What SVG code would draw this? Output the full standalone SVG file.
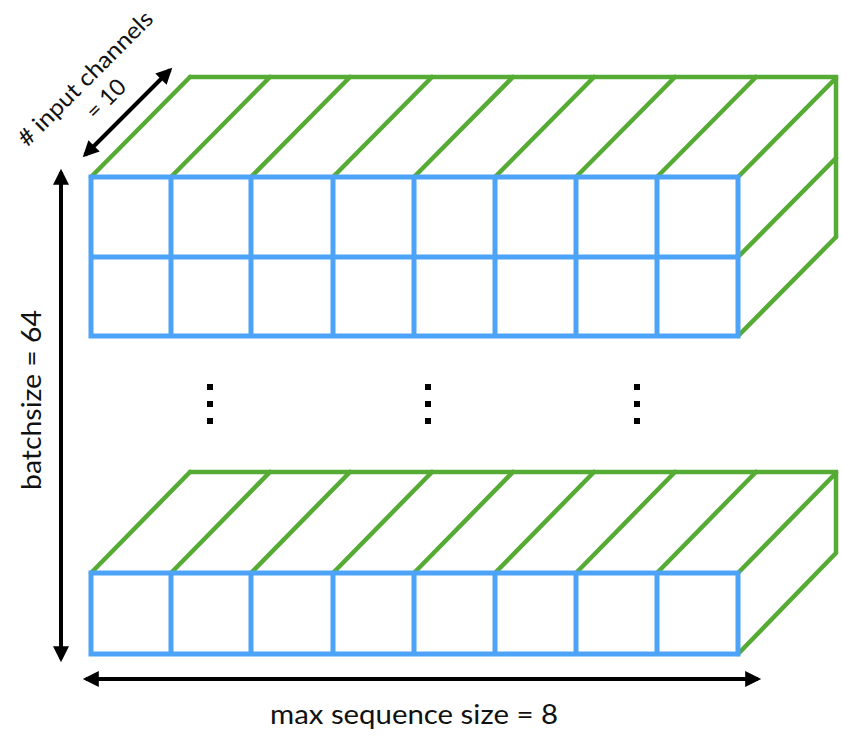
<svg xmlns="http://www.w3.org/2000/svg" width="842" height="737" viewBox="0 0 842 737">
<style>
.g{stroke:#56AB35;stroke-width:4.5;fill:none;stroke-linecap:round}
.b{stroke:#4DA3F7;stroke-width:5;fill:none}
.a{stroke:#000;stroke-width:4;fill:none}
.t{font-family:Lato,"Noto Sans",sans-serif;font-size:27px;fill:#111}
.d{fill:#000}
</style>
<defs>
<marker id="ah" viewBox="0 0 10 10" refX="8" refY="5" markerUnits="userSpaceOnUse" markerWidth="18" markerHeight="16" orient="auto-start-reverse">
<path d="M0,0 L10,5 L0,10 Z" fill="#000"/>
</marker>
</defs>
<g id="block-top">
<g class="g">
<path d="M190,77 H836 V237"/>
<path d="M91,177 L190,77 M171,177 L270,77 M251,177 L350,77 M333,177 L432,77 M414,177 L513,77 M495,177 L594,77 M576,177 L675,77 M657,177 L756,77 M738,177 L836,78"/>
<path d="M738,257 L836,158 M738,336 L836,237"/>
</g>
<g class="b">
<rect x="91" y="177" width="647" height="159"/>
<path d="M91,257 H738"/>
<path d="M171,177 V336 M251,177 V336 M333,177 V336 M414,177 V336 M495,177 V336 M576,177 V336 M657,177 V336"/>
</g>
</g>
<g id="block-bottom">
<g class="g">
<path d="M190,472 H836 V552"/>
<path d="M91,573 L190,472 M171,573 L270,472 M251,573 L350,472 M333,573 L432,472 M414,573 L513,472 M495,573 L594,472 M576,573 L675,472 M657,573 L756,472 M738,573 L836,473"/>
<path d="M738,654 L836,553"/>
</g>
<g class="b">
<rect x="91" y="573" width="647" height="81"/>
<path d="M171,573 V654 M251,573 V654 M333,573 V654 M414,573 V654 M495,573 V654 M576,573 V654 M657,573 V654"/>
</g>
</g>
<g id="ellipsis">
<rect class="d" x="207" y="384" width="6" height="6"/><rect class="d" x="207" y="401" width="6" height="6"/><rect class="d" x="207" y="418" width="6" height="6"/>
<rect class="d" x="425" y="384" width="6" height="6"/><rect class="d" x="425" y="401" width="6" height="6"/><rect class="d" x="425" y="418" width="6" height="6"/>
<rect class="d" x="634" y="384" width="6" height="6"/><rect class="d" x="634" y="401" width="6" height="6"/><rect class="d" x="634" y="418" width="6" height="6"/>
</g>
<g id="connectors">
<line class="a" x1="61" y1="172" x2="61" y2="659" marker-start="url(#ah)" marker-end="url(#ah)"/>
<line class="a" x1="86" y1="679" x2="758" y2="679" marker-start="url(#ah)" marker-end="url(#ah)"/>
<line class="a" x1="85" y1="155" x2="170" y2="70" marker-start="url(#ah)" marker-end="url(#ah)"/>
</g>
<g id="labels">
<text class="t" x="414" y="724" text-anchor="middle" textLength="288" lengthAdjust="spacingAndGlyphs">max sequence size = 8</text>
<text class="t" transform="translate(41,400) rotate(-90)" text-anchor="middle" textLength="180" lengthAdjust="spacingAndGlyphs">batchsize = 64</text>
<text class="t" style="font-size:23px" transform="translate(91,84) rotate(-45)" text-anchor="middle">
<tspan x="0" y="0" textLength="180" lengthAdjust="spacingAndGlyphs"># input channels</tspan><tspan x="0" y="29">= 10</tspan></text>
</g>
</svg>
